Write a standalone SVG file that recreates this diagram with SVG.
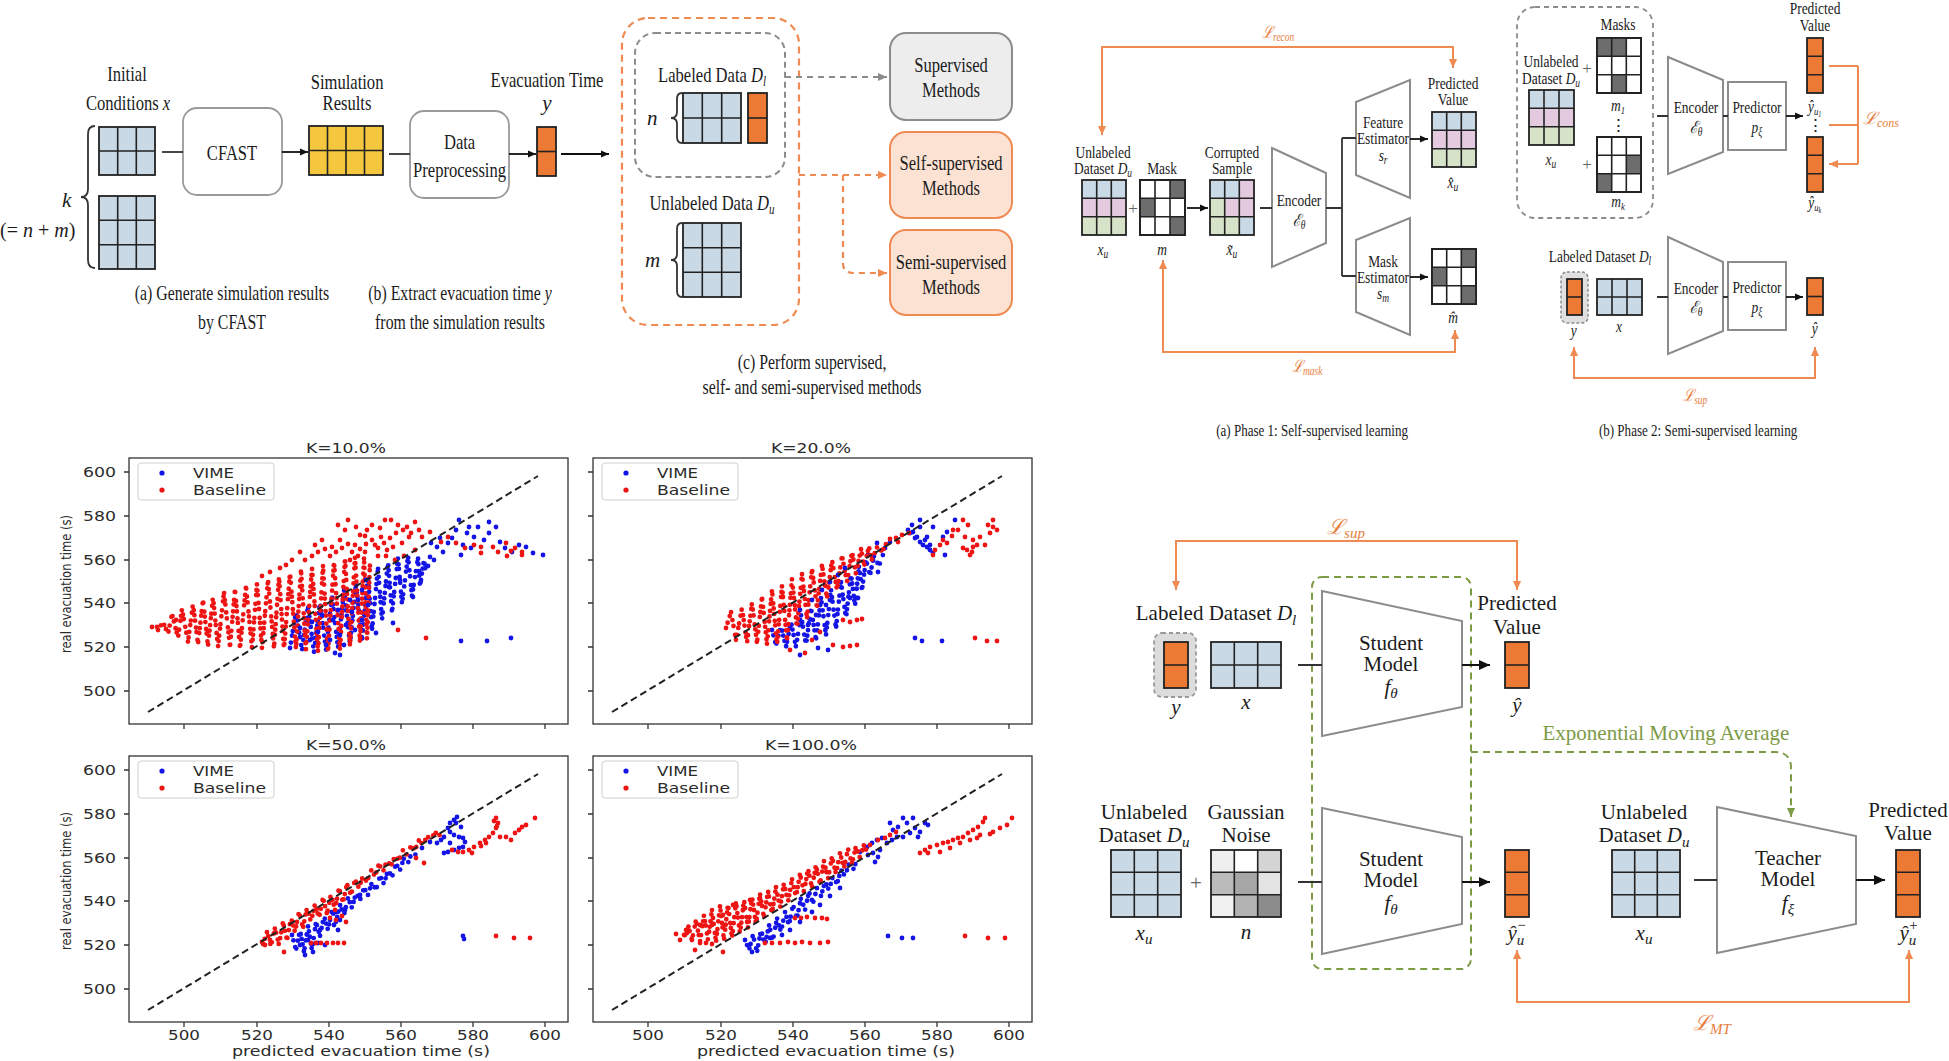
<svg xmlns="http://www.w3.org/2000/svg" width="1949" height="1061" viewBox="0 0 1949 1061">
<defs>
<style>
text{font-family:"Liberation Serif","DejaVu Serif",serif;fill:#1b1b1b}
.cn{transform:scaleX(0.79);transform-box:fill-box;transform-origin:center}
.m{text-anchor:middle}
.f21{font-size:21px}.f20{font-size:20px}.f17{font-size:17px}.f16{font-size:16.5px}
.it{font-style:italic}
.lo{fill:#E67E3E;font-style:italic}
.ge{fill:#7D9A45}
.pl{font-family:"DejaVu Sans","Liberation Sans",sans-serif;font-size:13.5px;fill:#2b2b2b}
.bd{stroke:#222;stroke-width:1.8}
.gl{fill:none;stroke:#222;stroke-width:1.6}
.cb{fill:#C9D9E5}.cp{fill:#E3CADF}.cg{fill:#D7E3C9}.co{fill:#EC7A34}.cy{fill:#F4C73F}.cd{fill:#6D6D6D}.cw{fill:#fff}
.ln{fill:none;stroke:#333;stroke-width:1.8}
.ar{fill:none;stroke:#111;stroke-width:1.8;marker-end:url(#ak)}
.ar2{fill:none;stroke:#111;stroke-width:2;marker-end:url(#ak2)}
.ol{fill:none;stroke:#EE8A52;stroke-width:2;marker-start:url(#ao);marker-end:url(#ao)}
.ol0{fill:none;stroke:#EE8A52;stroke-width:2}
.ol1{fill:none;stroke:#EE8A52;stroke-width:2;marker-end:url(#ao)}
.tz{fill:#fff;stroke:#8C8C8C;stroke-width:2}
.bx{fill:#fff;stroke:#9A9A9A;stroke-width:1.8}
.pm{fill:#666}
.zb{fill:none;stroke:#1414E6;stroke-width:4.8;stroke-linecap:round;stroke-linejoin:round;stroke-dasharray:0 5.5 0 7 0 4.5 0 8 0 6 0 9 0 5}
.zr{fill:none;stroke:#EE1414;stroke-width:4.8;stroke-linecap:round;stroke-linejoin:round;stroke-dasharray:0 5.5 0 7 0 4.5 0 8 0 6 0 9 0 5}
.db{fill:none;stroke:#1414E6;stroke-width:4.8;stroke-linecap:round}
.dr{fill:none;stroke:#EE1414;stroke-width:4.8;stroke-linecap:round}
</style>
<marker id="ak" viewBox="0 0 10 10" refX="10" refY="5" markerWidth="9" markerHeight="8" markerUnits="userSpaceOnUse" orient="auto"><path d="M0,0.5L10,5L0,9.5z" fill="#111"/></marker>
<marker id="ak2" viewBox="0 0 10 10" refX="10" refY="5" markerWidth="12" markerHeight="11" markerUnits="userSpaceOnUse" orient="auto"><path d="M0,0.5L10,5L0,9.5z" fill="#111"/></marker>
<marker id="ao" viewBox="0 0 10 10" refX="10" refY="5" markerWidth="10" markerHeight="9" markerUnits="userSpaceOnUse" orient="auto-start-reverse"><path d="M0,0.5L10,5L0,9.5z" fill="#EE8A52"/></marker>
<marker id="ag" viewBox="0 0 10 10" refX="10" refY="5" markerWidth="10" markerHeight="9" markerUnits="userSpaceOnUse" orient="auto"><path d="M0,0.5L10,5L0,9.5z" fill="#8C8C8C"/></marker>
<marker id="ae" viewBox="0 0 10 10" refX="10" refY="5" markerWidth="10" markerHeight="9" markerUnits="userSpaceOnUse" orient="auto"><path d="M0,0.5L10,5L0,9.5z" fill="#7D9A45"/></marker>
<g id="pf">
<rect x="129" y="458" width="439" height="266" fill="none" stroke="#333" stroke-width="1.3"/>
<path d="M124,472h5M124,516h5M124,560h5M124,603h5M124,647h5M124,691h5M184,724v5M257,724v5M329,724v5M401,724v5M473,724v5M545,724v5" stroke="#333" stroke-width="1.3"/>
<path d="M148,712L538,476" stroke="#222" stroke-width="2" stroke-dasharray="7 4"/>
<rect x="138" y="463" width="136" height="37" rx="3" fill="#fff" fill-opacity="0.85" stroke="#d0d0d0"/>
<circle cx="162" cy="473" r="2.6" fill="#1414E6"/>
<circle cx="162" cy="490" r="2.6" fill="#EE1414"/>
<text class="pl" x="193" y="478" textLength="41" lengthAdjust="spacingAndGlyphs">VIME</text>
<text class="pl" x="193" y="495" textLength="73" lengthAdjust="spacingAndGlyphs">Baseline</text>
</g>
</defs>
<rect width="1949" height="1061" fill="#fff"/>

<!-- Panel A -->
<g id="initial-conditions">
<text class="f21 m cn" x="127" y="81">Initial</text>
<text class="f21 m cn" x="128" y="110">Conditions <tspan class="it">x</tspan></text>
<rect class="cb bd" x="99" y="127" width="56" height="48"/>
<path class="gl" d="M117.7,127v48M136.3,127v48M99,151h56"/>
<rect class="cb bd" x="99" y="196" width="56" height="73"/>
<path class="gl" d="M117.7,196v73M136.3,196v73M99,220.3h56M99,244.7h56"/>
<path class="ln" stroke-width="1.5" d="M95,126Q88,126 88,134V189Q88,197 81,197Q88,197 88,205V260Q88,268 95,268"/>
<text class="f21 it" x="62" y="207">k</text>
<text class="f20" x="0" y="237">(= <tspan class="it">n</tspan> + <tspan class="it">m</tspan>)</text>
</g>
<g id="cfast">
<rect class="bx" x="183" y="108" width="99" height="87" rx="14"/>
<text class="f21 m cn" x="232" y="160">CFAST</text>
</g>
<g id="simulation-results">
<text class="f21 m cn" x="347" y="89">Simulation</text>
<text class="f21 m cn" x="347" y="110">Results</text>
<rect class="cy bd" x="309" y="126" width="74" height="49"/>
<path class="gl" d="M327.5,126v49M346,126v49M364.5,126v49M309,150.5h74"/>
</g>
<g id="data-preprocessing">
<rect class="bx" x="410" y="111" width="99" height="87" rx="14"/>
<text class="f21 m cn" x="459.5" y="149">Data</text>
<text class="f21 m cn" x="459.5" y="177">Preprocessing</text>
</g>
<g id="evacuation-time">
<text class="f21 m cn" x="547" y="87">Evacuation Time</text>
<text class="f21 m it" x="547" y="110">y</text>
<rect class="co bd" x="537" y="127" width="19" height="49"/>
<path class="gl" d="M537,151.5h19"/>
</g>
<g id="captions-ab">
<text class="f20 m cn" x="232" y="300">(a) Generate simulation results</text>
<text class="f20 m cn" x="232" y="329">by CFAST</text>
<text class="f20 m cn" x="460" y="300">(b) Extract evacuation time <tspan class="it">y</tspan></text>
<text class="f20 m cn" x="460" y="329">from the simulation results</text>
</g>

<!-- Panel C -->
<g id="data-split">
<rect x="622" y="18" width="177" height="307" rx="26" fill="none" stroke="#EE8A52" stroke-width="2.2" stroke-dasharray="7 5"/>
<rect x="635" y="33" width="150" height="144" rx="20" fill="none" stroke="#8C8C8C" stroke-width="2" stroke-dasharray="6 4"/>
<text class="f21 m cn" x="712" y="82">Labeled Data <tspan class="it">D</tspan><tspan class="it" font-size="14" dy="4">l</tspan></text>
<text class="f21 it" x="647" y="125">n</text>
<path class="ln" stroke-width="1.5" d="M682,93Q677,93 677,99V112Q677,118 671,118Q677,118 677,124V137Q677,143 682,143"/>
<rect class="cb bd" x="683" y="93" width="58" height="50"/>
<path class="gl" d="M702.3,93v50M721.7,93v50M683,118h58"/>
<rect class="co bd" x="748" y="93" width="19" height="50"/>
<path class="gl" d="M748,118h19"/>
<text class="f21 m cn" x="712" y="210">Unlabeled Data <tspan class="it">D</tspan><tspan class="it" font-size="14" dy="4">u</tspan></text>
<text class="f21 it" x="645" y="267">m</text>
<path class="ln" stroke-width="1.5" d="M682,223Q677,223 677,229V254Q677,260 671,260Q677,260 677,266V291Q677,297 682,297"/>
<rect class="cb bd" x="683" y="223" width="58" height="74"/>
<path class="gl" d="M702.3,223v74M721.7,223v74M683,247.7h58M683,272.3h58"/>
</g>
<g id="supervised-methods">
<rect x="890" y="33" width="122" height="87" rx="16" fill="#EDEDED" stroke="#8C8C8C" stroke-width="2"/>
<text class="f21 m cn" x="951" y="72">Supervised</text>
<text class="f21 m cn" x="951" y="97">Methods</text>
</g>
<g id="self-supervised-methods">
<rect x="890" y="132" width="122" height="86" rx="16" fill="#FBE2D2" stroke="#EE8A52" stroke-width="2"/>
<text class="f21 m cn" x="951" y="170">Self-supervised</text>
<text class="f21 m cn" x="951" y="195">Methods</text>
</g>
<g id="semi-supervised-methods">
<rect x="890" y="230" width="122" height="85" rx="16" fill="#FBE2D2" stroke="#EE8A52" stroke-width="2"/>
<text class="f21 m cn" x="951" y="269">Semi-supervised</text>
<text class="f21 m cn" x="951" y="294">Methods</text>
</g>
<g id="caption-c">
<text class="f20 m cn" x="812" y="369">(c) Perform supervised,</text>
<text class="f20 m cn" x="812" y="394">self- and semi-supervised methods</text>
</g>

<!-- Phase 1 -->
<g id="p1-unlabeled">
<text class="f17 m cn" x="1103" y="158">Unlabeled</text>
<text class="f17 m cn" x="1103" y="174">Dataset <tspan class="it">D</tspan><tspan class="it" font-size="12" dy="3">u</tspan></text>
<rect class="cb" x="1082" y="180" width="44" height="18.3"/>
<rect class="cp" x="1082" y="198.3" width="44" height="18.4"/>
<rect class="cg" x="1082" y="216.7" width="44" height="18.3"/>
<rect x="1082" y="180" width="44" height="55" fill="none" class="bd"/>
<path class="gl" d="M1096.7,180v55M1111.3,180v55M1082,198.3h44M1082,216.7h44"/>
<text class="f17 m cn it" x="1103" y="255">x<tspan font-size="12" dy="3">u</tspan></text>
<text class="f17 m pm" x="1133" y="214">+</text>
</g>
<g id="p1-mask">
<text class="f17 m cn" x="1162" y="174">Mask</text>
<rect class="cw bd" x="1140" y="180" width="45" height="55"/>
<rect class="cd" x="1170" y="180" width="15" height="18.3"/>
<rect class="cd" x="1140" y="198.3" width="15" height="18.4"/>
<rect class="cd" x="1170" y="216.7" width="15" height="18.3"/>
<rect x="1140" y="180" width="45" height="55" fill="none" class="bd"/>
<path class="gl" d="M1155,180v55M1170,180v55M1140,198.3h45M1140,216.7h45"/>
<text class="f17 m cn it" x="1162" y="255">m</text>
</g>
<g id="p1-corrupted">
<text class="f17 m cn" x="1232" y="158">Corrupted</text>
<text class="f17 m cn" x="1232" y="174">Sample</text>
<rect class="cb" x="1210" y="180" width="44" height="55"/>
<rect class="cp" x="1239.3" y="180" width="14.7" height="18.3"/>
<rect class="cg" x="1210" y="198.3" width="14.7" height="18.4"/>
<rect class="cp" x="1224.7" y="198.3" width="29.3" height="18.4"/>
<rect class="cg" x="1210" y="216.7" width="29.3" height="18.3"/>
<rect x="1210" y="180" width="44" height="55" fill="none" class="bd"/>
<path class="gl" d="M1224.7,180v55M1239.3,180v55M1210,198.3h44M1210,216.7h44"/>
<text class="f17 m cn it" x="1232" y="255">x̃<tspan font-size="12" dy="3">u</tspan></text>
</g>
<g id="p1-encoder">
<polygon class="tz" points="1272,148 1326,173 1326,243 1272,267"/>
<text class="f17 m cn" x="1299" y="206">Encoder</text>
<text class="f17 m cn it" x="1299" y="226">ℰ<tspan font-size="12" dy="3">θ</tspan></text>
</g>
<g id="p1-feature-estimator">
<polygon class="tz" points="1356,102 1410,80 1410,198 1356,175"/>
<text class="f17 m cn" x="1383" y="128">Feature</text>
<text class="f17 m cn" x="1383" y="144">Estimator</text>
<text class="f17 m cn it" x="1383" y="161">s<tspan font-size="12" dy="3">r</tspan></text>
</g>
<g id="p1-mask-estimator">
<polygon class="tz" points="1356,240 1410,218 1410,335 1356,312"/>
<text class="f17 m cn" x="1383" y="267">Mask</text>
<text class="f17 m cn" x="1383" y="283">Estimator</text>
<text class="f17 m cn it" x="1383" y="299">s<tspan font-size="12" dy="3">m</tspan></text>
</g>
<g id="p1-predicted">
<text class="f17 m cn" x="1453" y="89">Predicted</text>
<text class="f17 m cn" x="1453" y="105">Value</text>
<rect class="cb" x="1432" y="112" width="44" height="18.3"/>
<rect class="cp" x="1432" y="130.3" width="44" height="18.4"/>
<rect class="cg" x="1432" y="148.7" width="44" height="18.3"/>
<rect x="1432" y="112" width="44" height="55" fill="none" class="bd"/>
<path class="gl" d="M1446.7,112v55M1461.3,112v55M1432,130.3h44M1432,148.7h44"/>
<text class="f17 m cn it" x="1453" y="188">x̂<tspan font-size="12" dy="3">u</tspan></text>
</g>
<g id="p1-mhat">
<rect class="cw bd" x="1432" y="249" width="44" height="55"/>
<rect class="cd" x="1461.3" y="249" width="14.7" height="18.3"/>
<rect class="cd" x="1432" y="267.3" width="14.7" height="18.4"/>
<rect class="cd" x="1461.3" y="285.7" width="14.7" height="18.3"/>
<rect x="1432" y="249" width="44" height="55" fill="none" class="bd"/>
<path class="gl" d="M1446.7,249v55M1461.3,249v55M1432,267.3h44M1432,285.7h44"/>
<text class="f17 m cn it" x="1453" y="323">m̂</text>
</g>
<g id="p1-labels">
<text class="f17 m cn lo" x="1278" y="38">ℒ<tspan font-size="12" dy="3">recon</tspan></text>
<text class="f17 m cn lo" x="1307" y="372">ℒ<tspan font-size="12" dy="3">mask</tspan></text>
<text class="f16 m cn" x="1312" y="436">(a) Phase 1: Self-supervised learning</text>
</g>

<!-- Phase 2 -->
<g id="p2-unlabeled-group">
<rect x="1517" y="7" width="136" height="211" rx="18" fill="none" stroke="#8C8C8C" stroke-width="1.8" stroke-dasharray="5 4"/>
<text class="f17 m cn" x="1618" y="30">Masks</text>
<text class="f17 m cn" x="1551" y="67">Unlabeled</text>
<text class="f17 m cn" x="1551" y="84">Dataset <tspan class="it">D</tspan><tspan class="it" font-size="12" dy="3">u</tspan></text>
<rect class="cb" x="1529" y="90" width="45" height="18.3"/>
<rect class="cp" x="1529" y="108.3" width="45" height="18.4"/>
<rect class="cg" x="1529" y="126.7" width="45" height="18.3"/>
<rect x="1529" y="90" width="45" height="55" fill="none" class="bd"/>
<path class="gl" d="M1544,90v55M1559,90v55M1529,108.3h45M1529,126.7h45"/>
<text class="f17 m cn it" x="1551" y="165">x<tspan font-size="12" dy="3">u</tspan></text>
<text class="f17 m pm" x="1587" y="74">+</text>
<text class="f17 m pm" x="1587" y="170">+</text>
<rect class="cw bd" x="1597" y="38" width="44" height="55"/>
<rect class="cd" x="1597" y="38" width="29.4" height="18.3"/>
<rect class="cd" x="1611.7" y="74.7" width="14.7" height="18.3"/>
<rect x="1597" y="38" width="44" height="55" fill="none" class="bd"/>
<path class="gl" d="M1611.7,38v55M1626.3,38v55M1597,56.3h44M1597,74.7h44"/>
<text class="f17 m cn it" x="1618" y="111">m<tspan font-size="11" dy="3">1</tspan></text>
<text class="f16 m" x="1618" y="131" font-family="DejaVu Sans">⋮</text>
<rect class="cw bd" x="1597" y="137" width="44" height="55"/>
<rect class="cd" x="1626.3" y="155.3" width="14.7" height="18.4"/>
<rect class="cd" x="1597" y="173.7" width="14.7" height="18.3"/>
<rect x="1597" y="137" width="44" height="55" fill="none" class="bd"/>
<path class="gl" d="M1611.7,137v55M1626.3,137v55M1597,155.3h44M1597,173.7h44"/>
<text class="f17 m cn it" x="1618" y="207">m<tspan font-size="11" dy="3">k</tspan></text>
</g>
<g id="p2-encoder-top">
<polygon class="tz" points="1668,57 1723,80 1723,152 1668,174"/>
<text class="f17 m cn" x="1696" y="113">Encoder</text>
<text class="f17 m cn it" x="1696" y="133">ℰ<tspan font-size="12" dy="3">θ</tspan></text>
</g>
<g id="p2-predictor-top">
<rect class="tz" x="1728" y="82" width="58" height="68"/>
<text class="f17 m cn" x="1757" y="113">Predictor</text>
<text class="f17 m cn it" x="1757" y="133">p<tspan font-size="12" dy="3">ξ</tspan></text>
</g>
<g id="p2-predicted-top">
<text class="f17 m cn" x="1815" y="14">Predicted</text>
<text class="f17 m cn" x="1815" y="31">Value</text>
<rect class="co bd" x="1807" y="38" width="16" height="55"/>
<path class="gl" d="M1807,56.3h16M1807,74.7h16"/>
<text class="f17 m cn it" x="1815" y="112">ŷ<tspan font-size="11" dy="3">u</tspan><tspan font-size="8" dy="2">1</tspan></text>
<text class="f16 m" x="1815" y="131" font-family="DejaVu Sans">⋮</text>
<rect class="co bd" x="1807" y="137" width="16" height="55"/>
<path class="gl" d="M1807,155.3h16M1807,173.7h16"/>
<text class="f17 m cn it" x="1815" y="208">ŷ<tspan font-size="11" dy="3">u</tspan><tspan font-size="8" dy="2">k</tspan></text>
<text class="f17 lo" x="1863" y="124">ℒ<tspan font-size="12" dy="3">cons</tspan></text>
</g>
<g id="p2-labeled">
<text class="f17 m cn" x="1600" y="262">Labeled Dataset <tspan class="it">D</tspan><tspan class="it" font-size="12" dy="3">l</tspan></text>
<rect x="1561" y="272" width="27" height="51" rx="6" fill="#E0E0E0" stroke="#8C8C8C" stroke-width="1.5" stroke-dasharray="3 2"/>
<rect class="co bd" x="1567" y="279" width="15" height="36"/>
<path class="gl" d="M1567,297h15"/>
<rect class="cb bd" x="1597" y="279" width="45" height="36"/>
<path class="gl" d="M1612,279v36M1627,279v36M1597,297h45"/>
<text class="f17 m cn it" x="1574" y="336">y</text>
<text class="f17 m cn it" x="1619" y="332">x</text>
</g>
<g id="p2-encoder-bottom">
<polygon class="tz" points="1668,237 1723,262 1723,331 1668,354"/>
<text class="f17 m cn" x="1696" y="294">Encoder</text>
<text class="f17 m cn it" x="1696" y="313">ℰ<tspan font-size="12" dy="3">θ</tspan></text>
</g>
<g id="p2-predictor-bottom">
<rect class="tz" x="1728" y="262" width="58" height="68"/>
<text class="f17 m cn" x="1757" y="293">Predictor</text>
<text class="f17 m cn it" x="1757" y="313">p<tspan font-size="12" dy="3">ξ</tspan></text>
</g>
<g id="p2-yhat">
<rect class="co bd" x="1807" y="278" width="16" height="37"/>
<path class="gl" d="M1807,296.5h16"/>
<text class="f17 m cn it" x="1815" y="334">ŷ</text>
<text class="f17 m cn lo" x="1695" y="401">ℒ<tspan font-size="12" dy="3">sup</tspan></text>
<text class="f16 m cn" x="1698" y="436">(b) Phase 2: Semi-supervised learning</text>
</g>

<!-- Mean teacher panel -->
<g id="mt-green-box">
<rect x="1312" y="577" width="159" height="392" rx="10" fill="none" stroke="#7D9A45" stroke-width="2" stroke-dasharray="7 5"/>
</g>
<g id="mt-labeled">
<text class="f21 m" x="1216" y="620">Labeled Dataset <tspan class="it">D</tspan><tspan class="it" font-size="15" dy="5">l</tspan></text>
<rect x="1154" y="633" width="42" height="64" rx="8" fill="#DCDCDC" stroke="#999" stroke-width="1.8" stroke-dasharray="4 3"/>
<rect class="co bd" x="1164" y="642" width="24" height="46"/>
<path class="gl" d="M1164,665h24"/>
<rect class="cb bd" x="1211" y="642" width="70" height="46"/>
<path class="gl" d="M1234.3,642v46M1257.7,642v46M1211,665h70"/>
<text class="f21 m it" x="1176" y="714">y</text>
<text class="f21 m it" x="1246" y="709">x</text>
</g>
<g id="mt-student-top">
<polygon class="tz" points="1322,591 1462,621 1462,707 1322,736"/>
<text class="f21 m" x="1391" y="650">Student</text>
<text class="f21 m" x="1391" y="671">Model</text>
<text class="f21 m it" x="1391" y="694">f<tspan font-size="15" dy="4">θ</tspan></text>
</g>
<g id="mt-yhat">
<text class="f21 m" x="1517" y="610">Predicted</text>
<text class="f21 m" x="1517" y="634">Value</text>
<rect class="co bd" x="1505" y="642" width="24" height="46"/>
<path class="gl" d="M1505,665h24"/>
<text class="f21 m it" x="1517" y="712">ŷ</text>
</g>
<g id="mt-unlabeled-noise">
<text class="f21 m" x="1144" y="819">Unlabeled</text>
<text class="f21 m" x="1144" y="842">Dataset <tspan class="it">D</tspan><tspan class="it" font-size="15" dy="5">u</tspan></text>
<rect class="cb bd" x="1111" y="850" width="70" height="67"/>
<path class="gl" d="M1134.3,850v67M1157.7,850v67M1111,872.3h70M1111,894.7h70"/>
<text class="f21 m it" x="1144" y="940">x<tspan font-size="15" dy="4">u</tspan></text>
<text class="f21 m pm" x="1196" y="890">+</text>
<text class="f21 m" x="1246" y="819">Gaussian</text>
<text class="f21 m" x="1246" y="842">Noise</text>
<rect x="1211" y="850" width="23.3" height="22.3" fill="#EFEFEF"/>
<rect x="1234.3" y="850" width="23.4" height="22.3" fill="#FFFFFF"/>
<rect x="1257.7" y="850" width="23.3" height="22.3" fill="#D4D4D4"/>
<rect x="1211" y="872.3" width="23.3" height="22.4" fill="#BBBBBB"/>
<rect x="1234.3" y="872.3" width="23.4" height="22.4" fill="#A6A6A6"/>
<rect x="1257.7" y="872.3" width="23.3" height="22.4" fill="#E4E4E4"/>
<rect x="1211" y="894.7" width="23.3" height="22.3" fill="#F1F1F1"/>
<rect x="1234.3" y="894.7" width="23.4" height="22.3" fill="#B3B3B3"/>
<rect x="1257.7" y="894.7" width="23.3" height="22.3" fill="#8C8C8C"/>
<rect x="1211" y="850" width="70" height="67" fill="none" class="bd"/>
<path class="gl" d="M1234.3,850v67M1257.7,850v67M1211,872.3h70M1211,894.7h70"/>
<text class="f21 m it" x="1246" y="939">n</text>
</g>
<g id="mt-student-bottom">
<polygon class="tz" points="1322,808 1462,837 1462,924 1322,954"/>
<text class="f21 m" x="1391" y="866">Student</text>
<text class="f21 m" x="1391" y="887">Model</text>
<text class="f21 m it" x="1391" y="910">f<tspan font-size="15" dy="4">θ</tspan></text>
</g>
<g id="mt-yminus">
<rect class="co bd" x="1505" y="850" width="24" height="67"/>
<path class="gl" d="M1505,872.3h24M1505,894.7h24"/>
<text class="f21 m it" x="1517" y="940">ŷ<tspan font-size="15" dy="5">u</tspan><tspan font-size="15" dx="-8" dy="-15">−</tspan></text>
</g>
<g id="mt-unlabeled-teacher">
<text class="f21 m" x="1644" y="819">Unlabeled</text>
<text class="f21 m" x="1644" y="842">Dataset <tspan class="it">D</tspan><tspan class="it" font-size="15" dy="5">u</tspan></text>
<rect class="cb bd" x="1612" y="850" width="68" height="67"/>
<path class="gl" d="M1634.7,850v67M1657.3,850v67M1612,872.3h68M1612,894.7h68"/>
<text class="f21 m it" x="1644" y="940">x<tspan font-size="15" dy="4">u</tspan></text>
</g>
<g id="mt-teacher">
<polygon class="tz" points="1717,807 1856,836 1856,924 1717,953"/>
<text class="f21 m" x="1788" y="865">Teacher</text>
<text class="f21 m" x="1788" y="886">Model</text>
<text class="f21 m it" x="1788" y="910">f<tspan font-size="15" dy="4">ξ</tspan></text>
</g>
<g id="mt-yplus">
<text class="f21 m" x="1908" y="817">Predicted</text>
<text class="f21 m" x="1908" y="840">Value</text>
<rect class="co bd" x="1896" y="850" width="24" height="67"/>
<path class="gl" d="M1896,872.3h24M1896,894.7h24"/>
<text class="f21 m it" x="1909" y="940">ŷ<tspan font-size="15" dy="5">u</tspan><tspan font-size="15" dx="-8" dy="-15">+</tspan></text>
</g>
<g id="mt-labels">
<text class="f21 m lo" x="1346" y="534">ℒ<tspan font-size="15" dy="4">sup</tspan></text>
<text class="f21 m ge" x="1666" y="740">Exponential Moving Average</text>
<text class="f21 m lo" x="1712" y="1030">ℒ<tspan font-size="15" dy="4">MT</tspan></text>
</g>

<!-- Connectors -->
<g id="connectors">
<path class="ln" d="M162,152H183"/>
<path class="ar" d="M282,152H308"/>
<path class="ln" d="M389,154H410"/>
<path class="ar" d="M509,154H536"/>
<path class="ar" d="M561,154H609"/>
<path d="M785,77H887" fill="none" stroke="#8C8C8C" stroke-width="2" stroke-dasharray="6 5" marker-end="url(#ag)"/>
<path d="M799,175H887" fill="none" stroke="#EE8A52" stroke-width="2.2" stroke-dasharray="6 5" marker-end="url(#ao)"/>
<path d="M843,175V263Q843,273 853,273H887" fill="none" stroke="#EE8A52" stroke-width="2.2" stroke-dasharray="6 5" marker-end="url(#ao)"/>
<path class="ar" d="M1187,208H1208"/>
<path class="ln" stroke="#555" d="M1260,208H1272M1326,208H1342M1342,138V276M1342,138H1356M1342,276H1356"/>
<path class="ar" d="M1410,139H1428"/>
<path class="ar" d="M1410,277H1428"/>
<path class="ol" d="M1102,135V47H1453V68"/>
<path class="ol" d="M1455,330V352H1163V260"/>
<path class="ln" stroke="#555" d="M1657,116H1668M1723,116H1728M1657,297H1668M1723,297H1728"/>
<path class="ar" d="M1786,116H1803"/>
<path class="ar" d="M1786,297H1803"/>
<path class="ol0" d="M1858,66V164"/>
<path class="ol1" d="M1858,66H1829M1858,125H1829M1858,164H1829"/>
<path class="ol" d="M1574,347V378H1815V347"/>
<path class="ol" d="M1176,590V541H1517V590"/>
<path class="ln" stroke="#555" d="M1298,665H1322M1298,882H1322M1694,880H1717"/>
<path class="ar2" d="M1462,665H1490"/>
<path class="ar2" d="M1462,882H1490"/>
<path class="ar2" d="M1856,880H1885"/>
<path d="M1471,752H1775Q1791,752 1791,768V817" fill="none" stroke="#7D9A45" stroke-width="2" stroke-dasharray="7 5" marker-end="url(#ae)"/>
<path class="ol" d="M1517,950V1002H1909V950"/>
</g>

<!-- Scatter plots -->
<g id="plot-k10">
<path class="zb" d="M290,648L296,612L302,650L308,606L314,652L320,602L326,650L332,596L338,648L344,590L350,644L356,584L362,640L368,576L372,630L378,568L382,620L388,562L392,612L398,558L402,604L408,556L412,596L418,558L420,586L424,560L426,574"/>
<path class="db" d="M459,520h0M469,527h0M478,527h0M467,533h0M489,522h0M496,527h0M489,533h0M474,537h0M456,530h0M448,543h0M437,547h0M431,543h0M443,552h0M461,555h0M430,557h0M519,545h0M533,553h0M543,555h0M500,542h0M526,547h0M452,538h0M484,540h0M505,548h0M440,538h0M463,545h0M512,552h0M471,548h0M461,641h0M487,641h0M511,638h0M393,623h0M413,597h0M389,587h0M400,580h0M335,653h0M340,655h0M376,633h0M421,580h0M428,566h0M434,560h0"/>
<path class="zr" d="M158,630L163,622L168,634L172,614L178,638L182,609L188,642L193,604L198,644L203,600L208,646L213,597L218,647L224,592L230,647L235,589L240,648L246,586L252,648L257,584L262,648L268,580L274,648L279,577L284,649L290,573L296,649L301,570L306,650L312,568L318,651L323,566L328,652L334,562L340,650L345,558L350,646L355,557L360,642L364,558L367,640L370,563"/>
<path class="dr" d="M348,520h0M356,527h0M367,530h0M365,536h0M391,520h0M398,525h0M407,527h0M409,537h0M419,530h0M422,537h0M430,532h0M448,537h0M441,542h0M456,543h0M465,548h0M474,545h0M481,547h0M493,547h0M506,543h0M515,548h0M522,552h0M481,553h0M507,556h0M522,555h0M398,630h0M426,638h0M393,547h0M402,543h0M387,550h0M340,540h0M332,547h0M355,545h0M375,545h0M381,537h0M415,550h0M498,552h0M511,551h0M378,556h0M386,556h0M395,560h0M404,556h0M157,627h0M152,627h0M176,620h0M305,560h0M312,556h0M318,552h0M325,549h0M330,556h0M336,552h0M342,548h0M348,544h0M352,552h0M360,549h0M366,544h0M372,540h0M378,548h0M384,543h0M390,538h0M396,533h0M403,530h0M411,533h0M360,535h0M345,530h0M338,525h0M372,525h0M380,528h0M385,520h0M415,522h0M322,540h0M315,545h0M300,552h0M292,560h0M286,565h0M280,568h0M270,572h0M262,576h0M350,560h0M358,556h0M365,552h0"/>
<path class="db" d="M300,628h0M310,640h0M318,632h0M326,645h0M333,620h0M340,635h0M346,625h0M352,612h0M358,600h0M362,590h0M366,580h0M344,645h0M312,622h0M322,615h0M330,640h0M355,630h0M362,620h0M368,605h0M350,600h0M338,610h0"/>
</g>
<g id="plot-k20">
<path class="zb" d="M772,630L776,645L781,626L786,647L791,622L796,647L801,615L806,645L811,608L816,640L821,598L826,635L831,590L836,628L841,582L846,618L851,574L855,606L859,566L862,590L866,560L870,575L874,556L879,566L884,552"/>
<path class="db" d="M877,543h0M890,542h0M885,548h0M868,555h0M873,560h0M878,572h0M800,655h0M828,650h0M818,648h0M850,598h0M858,598h0M920,520h0M912,525h0M908,530h0M913,532h0M917,537h0M920,542h0M923,545h0M927,547h0M930,550h0M933,553h0M920,527h0M933,527h0M947,532h0M955,520h0M943,537h0M945,555h0M915,538h0M925,540h0M930,545h0M910,533h0M927,537h0M915,638h0M922,641h0M942,641h0"/>
<path class="zr" d="M726,628L731,612L736,640L742,608L747,643L752,603L757,643L762,597L767,644L772,590L777,645L782,586L787,640L792,579L797,628L802,574L807,618L812,569L817,608L822,565L827,598L832,560L837,590L842,556L847,582L852,552L856,574L861,549L864,566L869,547L872,560L878,545L882,552L887,542"/>
<path class="dr" d="M843,620h0M850,622h0M857,620h0M862,619h0M833,645h0M843,647h0M850,646h0M857,645h0M805,653h0M890,539h0M896,538h0M902,535h0M909,533h0M898,542h0M963,520h0M968,525h0M958,530h0M952,536h0M943,540h0M940,545h0M935,550h0M933,555h0M947,543h0M953,530h0M965,537h0M973,540h0M980,537h0M985,545h0M973,547h0M967,550h0M970,555h0M993,520h0M993,527h0M997,530h0M990,533h0M977,545h0M972,552h0M963,548h0M988,525h0M975,638h0M987,641h0M997,641h0M812,640h0M820,632h0M790,650h0"/>
<path class="db" d="M800,610h0M812,600h0M822,590h0M830,582h0M838,575h0M845,568h0M808,625h0M816,615h0M826,605h0"/>
</g>
<g id="plot-k50">
<path class="zb" d="M292,935L296,950L300,930L304,952L308,926L312,950L316,922L320,936L324,916L328,930L332,910L336,922L340,905L344,915L348,898L352,908L356,893L360,900L364,888L368,895L372,882L376,890L380,876L384,884L388,870L392,877L396,864L400,870L404,858L408,863L412,852L416,855"/>
<path class="db" d="M313,952h0M305,955h0M325,945h0M318,943h0M334,925h0M338,930h0M340,920h0M336,912h0M444,853h0M448,852h0M454,850h0M459,848h0M463,847h0M465,842h0M463,838h0M459,837h0M454,835h0M450,832h0M448,828h0M450,823h0M454,820h0M457,817h0M444,837h0M441,840h0M461,827h0M456,823h0M450,843h0M437,843h0M463,936h0M464,939h0M430,842h0M422,848h0"/>
<path class="zr" d="M263,944L267,932L271,946L275,928L279,945L283,922L287,940L291,918L295,932L299,912L303,928L307,908L311,922L315,904L319,918L323,898L327,914L331,894L335,910L339,888L343,902L347,884L351,895L355,880L359,888L363,876L367,882L371,870L375,876L379,864L383,872L387,860L391,866L395,856L399,860L403,850L407,855L411,846L415,850L419,840L423,845L427,836L431,840L435,832L439,836L443,830"/>
<path class="dr" d="M311,943h0M316,943h0M321,943h0M327,943h0M333,943h0M338,943h0M344,943h0M284,952h0M265,945h0M262,942h0M270,940h0M463,852h0M469,850h0M474,847h0M480,843h0M485,840h0M489,837h0M493,833h0M496,828h0M498,823h0M496,818h0M500,837h0M506,837h0M515,833h0M519,830h0M522,827h0M526,825h0M535,818h0M511,840h0M481,846h0M472,853h0M494,821h0M497,826h0M486,843h0M496,936h0M514,938h0M530,938h0M424,863h0M416,858h0M452,850h0M458,852h0M330,918h0M336,920h0M342,916h0M346,922h0"/>
<path class="db" d="M300,945h0M308,940h0M320,930h0M345,910h0M360,895h0"/>
</g>
<g id="plot-k100">
<path class="zb" d="M745,940L749,950L753,935L757,952L761,930L765,945L769,925L773,940L777,918L781,932L785,912L789,925L793,905L797,918L801,898L805,910L809,892L813,903L817,888L821,896L825,882L829,890L833,876L837,884L841,870L845,876L849,864L853,870L857,860"/>
<path class="db" d="M860,852h0M867,847h0M872,843h0M877,840h0M873,853h0M878,857h0M875,862h0M880,850h0M887,843h0M890,823h0M893,830h0M898,827h0M903,818h0M913,818h0M907,823h0M915,828h0M920,832h0M925,823h0M928,825h0M910,833h0M903,837h0M897,837h0M918,837h0M892,840h0M882,838h0M868,855h0M888,936h0M902,938h0M913,938h0M752,952h0"/>
<path class="zr" d="M684,935L688,925L692,940L696,920L700,942L704,915L708,940L712,910L716,942L720,906L724,940L728,904L732,938L736,902L740,934L744,900L748,928L752,897L756,924L760,894L764,918L768,891L772,914L776,887L780,908L784,883L788,902L792,879L796,897L800,874L804,892L808,869L812,888L816,865L820,884L824,861L828,879L832,857L836,874L840,853L844,868L848,849L852,864L856,846L860,858L864,845L868,854"/>
<path class="dr" d="M765,943h0M772,943h0M780,943h0M788,942h0M795,943h0M802,942h0M810,943h0M820,943h0M828,942h0M700,943h0M706,943h0M712,944h0M795,918h0M801,918h0M807,917h0M815,918h0M822,918h0M827,919h0M685,935h0M692,940h0M700,925h0M712,925h0M723,952h0M723,915h0M733,905h0M750,900h0M760,898h0M687,933h0M870,845h0M878,840h0M885,838h0M890,835h0M896,832h0M920,853h0M925,850h0M930,847h0M937,845h0M943,843h0M948,842h0M953,840h0M958,838h0M963,837h0M968,833h0M973,830h0M978,827h0M983,822h0M985,818h0M993,832h0M1000,828h0M1007,825h0M1012,818h0M940,852h0M950,848h0M960,843h0M970,840h0M980,835h0M928,853h0M977,838h0M990,834h0M965,936h0M988,938h0M1005,938h0M676,934h0M680,940h0M695,950h0"/>
<path class="db" d="M770,938h0M782,935h0M790,930h0M800,922h0M812,912h0M820,905h0M830,896h0M840,888h0"/>
</g>
<g id="plot-frames">
<use href="#pf"/>
<use href="#pf" transform="translate(464,0)"/>
<use href="#pf" transform="translate(0,298)"/>
<use href="#pf" transform="translate(464,298)"/>
</g>
<g id="plot-labels">
<text class="pl m" x="346" y="453" textLength="80" lengthAdjust="spacingAndGlyphs">K=10.0%</text>
<text class="pl m" x="811" y="453" textLength="80" lengthAdjust="spacingAndGlyphs">K=20.0%</text>
<text class="pl m" x="346" y="750" textLength="80" lengthAdjust="spacingAndGlyphs">K=50.0%</text>
<text class="pl m" x="811" y="750" textLength="92" lengthAdjust="spacingAndGlyphs">K=100.0%</text>
<g text-anchor="end">
<text class="pl" x="116" y="477" textLength="33" lengthAdjust="spacingAndGlyphs">600</text>
<text class="pl" x="116" y="521" textLength="33" lengthAdjust="spacingAndGlyphs">580</text>
<text class="pl" x="116" y="565" textLength="33" lengthAdjust="spacingAndGlyphs">560</text>
<text class="pl" x="116" y="608" textLength="33" lengthAdjust="spacingAndGlyphs">540</text>
<text class="pl" x="116" y="652" textLength="33" lengthAdjust="spacingAndGlyphs">520</text>
<text class="pl" x="116" y="696" textLength="33" lengthAdjust="spacingAndGlyphs">500</text>
<text class="pl" x="116" y="775" textLength="33" lengthAdjust="spacingAndGlyphs">600</text>
<text class="pl" x="116" y="819" textLength="33" lengthAdjust="spacingAndGlyphs">580</text>
<text class="pl" x="116" y="863" textLength="33" lengthAdjust="spacingAndGlyphs">560</text>
<text class="pl" x="116" y="906" textLength="33" lengthAdjust="spacingAndGlyphs">540</text>
<text class="pl" x="116" y="950" textLength="33" lengthAdjust="spacingAndGlyphs">520</text>
<text class="pl" x="116" y="994" textLength="33" lengthAdjust="spacingAndGlyphs">500</text>
</g>
<g text-anchor="middle">
<text class="pl" x="184" y="1040" textLength="32" lengthAdjust="spacingAndGlyphs">500</text>
<text class="pl" x="257" y="1040" textLength="32" lengthAdjust="spacingAndGlyphs">520</text>
<text class="pl" x="329" y="1040" textLength="32" lengthAdjust="spacingAndGlyphs">540</text>
<text class="pl" x="401" y="1040" textLength="32" lengthAdjust="spacingAndGlyphs">560</text>
<text class="pl" x="473" y="1040" textLength="32" lengthAdjust="spacingAndGlyphs">580</text>
<text class="pl" x="545" y="1040" textLength="32" lengthAdjust="spacingAndGlyphs">600</text>
<text class="pl" x="648" y="1040" textLength="32" lengthAdjust="spacingAndGlyphs">500</text>
<text class="pl" x="721" y="1040" textLength="32" lengthAdjust="spacingAndGlyphs">520</text>
<text class="pl" x="793" y="1040" textLength="32" lengthAdjust="spacingAndGlyphs">540</text>
<text class="pl" x="865" y="1040" textLength="32" lengthAdjust="spacingAndGlyphs">560</text>
<text class="pl" x="937" y="1040" textLength="32" lengthAdjust="spacingAndGlyphs">580</text>
<text class="pl" x="1009" y="1040" textLength="32" lengthAdjust="spacingAndGlyphs">600</text>
<text class="pl" x="361" y="1056" textLength="258" lengthAdjust="spacingAndGlyphs">predicted evacuation time (s)</text>
<text class="pl" x="826" y="1056" textLength="258" lengthAdjust="spacingAndGlyphs">predicted evacuation time (s)</text>
<text class="pl" font-size="15.5" transform="translate(71,584) rotate(-90)" textLength="138" lengthAdjust="spacingAndGlyphs">real evacuation time (s)</text>
<text class="pl" font-size="15.5" transform="translate(71,881) rotate(-90)" textLength="138" lengthAdjust="spacingAndGlyphs">real evacuation time (s)</text>
</g>
</g>
</svg>
